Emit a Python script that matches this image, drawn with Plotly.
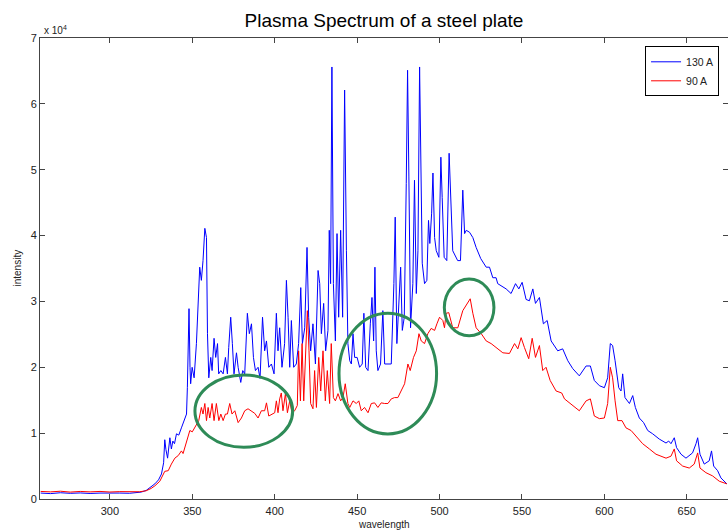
import plotly.graph_objects as go

# ---- data ----
wl_130 = [258, 264, 270, 276, 282, 288, 294, 300, 306, 312, 316, 319, 322, 325, 327.3, 329.5, 331.3, 332.6, 333.3, 334.0,
          335, 336.4, 337.3, 338.2, 339.2, 340.4, 341.8, 343.4, 345, 346.5, 347, 348, 348.6, 349, 349.9, 351.1, 352.5,
          353.5, 354.5, 355.5, 356.5, 357.6, 358.6, 359.2, 360, 361.2, 362, 363.2, 364.2, 365.3, 366, 367.3, 368.7,
          370.1, 371.3, 372.1, 373.3, 374.3, 375.3, 376.8, 377.8, 379.4, 380.6, 381.8, 383.4, 384.6, 385.9, 387.1,
          388.3, 389.9, 391.1, 392.6, 393.9, 395, 396.4, 398, 399.6, 401, 402, 403, 404.4, 406, 407.1, 408.1, 409.1,
          410.1, 411.5, 413.1, 414.5, 415.8, 416.8, 418.2, 419.6, 420.6, 421.8, 423.2, 424.7, 426.3, 427.3, 428.3,
          429.7, 430.9, 432.3, 433.1, 433.9, 434.7, 435.6, 436.8, 437.8, 438.8, 440, 441.2, 442.4, 443.5, 444.4,
          445.5, 446.5, 447.5, 448.5, 450, 451.5, 453.1, 454.1, 455.2, 456.6, 458, 459, 460, 460.8, 461.6, 462.6,
          464.2, 465.6, 466.7, 468.7, 470.7, 472.3, 473.1, 474.1, 475.4, 476.4, 477.4, 478.6, 479.8, 480.6, 481.4,
          482.4, 483.8, 484.8, 485.9, 486.9, 487.9, 488.7, 489.5, 490.9, 492.3, 493.3, 494.1, 495.2, 496, 497, 498,
          499.6, 500.8, 501.6, 502.8, 504.4, 505.8, 508, 511, 512.7, 514.1, 515.2, 516.2, 518.2, 520.2, 522.2, 525,
          528.3, 530.3, 532.3, 534.3, 535.3, 537.5, 540.4, 543.4, 546.1, 548.1, 550.1, 552.5, 554.5, 556.6, 558.2,
          560.6, 563, 565.3, 567.7, 571.7, 574.7, 577.8, 580.8, 584.8, 588.9, 591.5, 593.9, 597, 600, 602, 603.6,
          605, 606.5, 608.7, 610.1, 611.1, 612.5, 615.2, 617.2, 618.8, 621.2, 623.8, 626.3, 629.3, 633.3, 637.4,
          639, 640.4, 642.4, 643.8, 646.5, 649.5, 653.5, 655.6, 656.6, 658, 660.6, 663.6, 665, 666.3, 668.7, 670.7,
          674.3]
int_130 = [900, 820, 950, 860, 920, 840, 900, 850, 900, 870, 950, 1050, 1300, 1800, 2300, 2900, 3800, 5500, 9000, 7500,
           6200, 9300, 7600, 8800, 8400, 9900, 9700, 10800, 11800, 12900, 16900, 28900, 20000, 17500, 20000, 18400, 23600,
           29100, 35200, 33200, 36200, 41100, 39700, 25100, 18400, 21500, 19500, 24400, 21500, 23600, 19000, 19500, 19000,
           21500, 19000, 23000, 27600, 23600, 19000, 22200, 20000, 17700, 19500, 19000, 28200, 25100, 26600, 21500,
           19500, 20000, 18300, 27600, 22500, 24000, 20000, 20500, 19000, 28200, 22500, 26000, 20000, 23600, 33200, 27600, 20000,
           27100, 20000, 20500, 23600, 32100, 23600, 26000, 38200, 27600, 22500, 26600, 20500, 34700, 32700, 25100,
           29700, 22500, 25600, 40800, 32700, 65600, 32700, 24000, 40300, 27600, 40800, 27600, 62100, 37700, 23600,
           21000, 20500, 25100, 21500, 21500, 20000, 20500, 28200, 20000, 19500, 26600, 30600, 24000, 35200, 22500, 19500,
           20500, 28600, 20500, 20500, 20500, 32700, 42800, 23600, 30100, 35200, 25600, 27600, 47900, 65100, 48900,
           26000, 32700, 48400, 31200, 37700, 65600, 53000, 35800, 32700, 33200, 42300, 38800, 43400, 49500, 39700, 37700,
           36700, 51900, 45800, 36700, 36200, 52500, 37700, 36200, 36200, 46900, 40300, 40800, 40500, 39700, 38200, 36500,
           35200, 35200, 33600, 33600, 32700, 32300, 31900, 31200, 32700, 31900, 32900, 30300, 30100, 31900, 29700,
           30600, 26600, 27100, 24000, 22500, 22800, 21000, 19800, 18700, 20200, 20200, 18000, 17200, 16900, 18400, 23600,
           23300, 21000, 16900, 16400, 19000, 15400, 14500, 15700, 13900, 12300, 11600, 10400, 9900, 9100, 8500,
           8800, 8400, 9300, 7800, 6800, 6200, 7000, 8400, 9300, 6800, 5300, 5800, 7300, 5000, 4300, 3200,
           2300]

wl_90 = [258, 264, 270, 276, 282, 288, 294, 300, 306, 312, 318, 322, 325, 327.3, 330.3, 333.3, 335.4, 337.3, 339.4, 341.5,
         343.4, 344.4, 346.5, 348.5, 350, 351.5, 353.9, 355.5, 356.5, 357.6, 358.6, 359.6, 360.6, 362, 363.2, 364.6,
         366.1, 367.3, 368.7, 370.1, 371.3, 372.7, 374.1, 375.8, 377.8, 379.8, 381.8, 383.8, 385.9, 387.9, 389.9,
         391.9, 393.9, 395, 396.4, 398.4, 400, 401, 402, 403, 404, 405, 406.5, 407.7, 409.1, 410.5, 412.1, 413.7,
         414.5, 415.6, 416.6, 417.6, 418.6, 419.8, 420.8, 421.8, 423.2, 424.2, 425.3, 426.7, 427.9, 429.3, 430.7,
         431.9, 433.3, 434.3, 435.6, 436.8, 438.4, 440, 441.4, 442.8, 444.4, 445.5, 447.5, 449.5, 451, 452.5, 454.5,
         456.6, 458.6, 460.6, 462.6, 464.6, 466.7, 468.7, 470.7, 472.7, 474.7, 476.8, 478.8, 480.8, 482.2, 484.2,
         485.9, 487.5, 488.9, 490.9, 492.9, 494.9, 497, 498.4, 500, 502, 503, 504, 505.6, 508, 511.1, 514.1, 516.2,
         518.6, 520.2, 522.2, 525.3, 528.3, 531.3, 534.3, 538.4, 542.4, 545.5, 547.5, 549.5, 551.5, 554.1, 556.2,
         558.2, 560.6, 562.6, 564.6, 567.1, 570.7, 574.1, 575.8, 578.8, 581.8, 584.8, 588.9, 591.5, 593.9, 597, 600,
         602, 603.6, 605, 606.5, 608.1, 610.7, 613.1, 616.2, 619.2, 623.2, 627.3, 631.3, 637.4, 640.4, 642.4, 643.8,
         647.5, 651.5, 654.5, 656.6, 658, 661.6, 665.7, 669.7, 674.3]
int_90 = [1150, 1080, 1180, 1050, 1150, 1080, 1150, 1060, 1120, 1060, 1100, 1250, 1600, 2000, 2700, 4200, 4300, 5300, 6200, 6600,
          7300, 6900, 8800, 10400, 10200, 10800, 11900, 13900, 12900, 14500, 11900, 13900, 12300, 14500, 11900, 14500,
          11900, 12900, 11900, 12900, 12900, 14500, 12900, 13400, 11600, 12300, 13400, 13700, 13400, 13000, 12300,
          13400, 13400, 14600, 12600, 12900, 13100, 14900, 13100, 15200, 16100, 13400, 16000, 13100, 14900, 13100, 13400, 14200,
          22500, 14900, 23600, 14900, 22500, 28600, 22500, 14500, 13700, 19500, 13900, 21500, 16400, 22500, 14900,
          19500, 14500, 23600, 15400, 14900, 16000, 14900, 15400, 17500, 14500, 13900, 14900, 14500, 14900, 13400, 13900,
          13100, 14500, 14600, 13900, 14600, 14500, 14500, 15200, 15400, 15400, 16400, 17500, 20500, 19500, 21500,
          22500, 25100, 24000, 23600, 25100, 25900, 25600, 26600, 27600, 27100, 26000, 28200, 28300, 26000, 26000, 28600, 29400,
          30400, 28200, 26000, 25100, 24000, 23600, 23000, 22200, 22100, 23600, 22800, 24500, 23000, 21300, 24400,
          21500, 23300, 19500, 20000, 18000, 16400, 16100, 15200, 14600, 13900, 13400, 14900, 15200, 12600, 12200, 12300,
          14500, 20000, 18400, 14900, 11900, 11900, 10800, 10400, 9600, 8400, 7600, 6800, 6200, 6500, 7600, 5800,
          5000, 4700, 5300, 7000, 4700, 4000, 3500, 2700, 2300]

series_names = ["130 A", "90 A"]
x_ticks = [300, 350, 400, 450, 500, 550, 600, 650]
y_ticks = [0, 10000, 20000, 30000, 40000, 50000, 60000, 70000]
y_tick_labels = ["0", "1", "2", "3", "4", "5", "6", "7"]

# highlighted regions (wavelength x0, x1, intensity y0, y1)
ellipses = [
    (351.6, 410.9, 7860, 18840),
    (439.0, 498.2, 9880, 28220),
    (502.9, 533.0, 24770, 33390),
]

FONT = "Liberation Sans, Arial, sans-serif"
TXT = "#222222"

fig = go.Figure()
fig.add_trace(go.Scatter(x=wl_130, y=int_130, mode="lines", name=series_names[0],
                         line=dict(color="#0000FF", width=1)))
fig.add_trace(go.Scatter(x=wl_90, y=int_90, mode="lines", name=series_names[1],
                         line=dict(color="#FF0000", width=1)))

for (x0, x1, y0, y1) in ellipses:
    fig.add_shape(type="circle", xref="x", yref="y", x0=x0, x1=x1, y0=y0, y1=y1,
                  line=dict(color="#2E8B57", width=3), fillcolor="rgba(0,0,0,0)")

axis_common = dict(showgrid=False, zeroline=False, showline=True, linecolor="#444444", linewidth=1,
                   mirror="ticks", ticks="inside", ticklen=5, tickcolor="#444444", automargin=False,
                   tickfont=dict(family=FONT, size=11, color=TXT))

fig.update_layout(
    width=728, height=532,
    margin=dict(l=40, r=0, t=38, b=33, autoexpand=False),
    paper_bgcolor="white", plot_bgcolor="white",
    title=dict(text="Plasma Spectrum of a steel plate", x=0.5, xref="paper", xanchor="center",
               y=1 - 20 / 532, yref="container", yanchor="middle",
               font=dict(family=FONT, size=19, color="black")),
    xaxis=dict(range=[257.6, 675], tickvals=x_ticks, ticklabelstandoff=2, **axis_common),
    yaxis=dict(range=[0, 70000], tickvals=y_ticks, ticktext=y_tick_labels, **axis_common),
    legend=dict(x=0.987, xanchor="right", y=0.982, yanchor="top", bgcolor="white",
                bordercolor="black", borderwidth=1, font=dict(family=FONT, size=10.5, color=TXT),
                tracegroupgap=0, itemwidth=30),
    showlegend=True,
    hovermode=False,
)

# axis titles and exponent label
fig.add_annotation(text="wavelength", xref="paper", yref="paper", x=0.5, y=0, yshift=-25,
                   xanchor="center", yanchor="middle", showarrow=False,
                   font=dict(family=FONT, size=10, color=TXT))
fig.add_annotation(text="intensity", xref="paper", yref="paper", x=0, y=0.5, xshift=-23,
                   xanchor="center", yanchor="middle", textangle=-90, showarrow=False,
                   font=dict(family=FONT, size=10, color=TXT))
fig.add_annotation(text="x 10<sup>4</sup>", xref="paper", yref="paper", x=0, y=1, xshift=2, xanchor="left",
                   yanchor="bottom", showarrow=False, font=dict(family=FONT, size=10, color=TXT))

fig.write_html("out.html", config={"displayModeBar": False, "staticPlot": True},
               post_script="document.body.style.margin='0px';document.body.style.overflow='hidden';")
